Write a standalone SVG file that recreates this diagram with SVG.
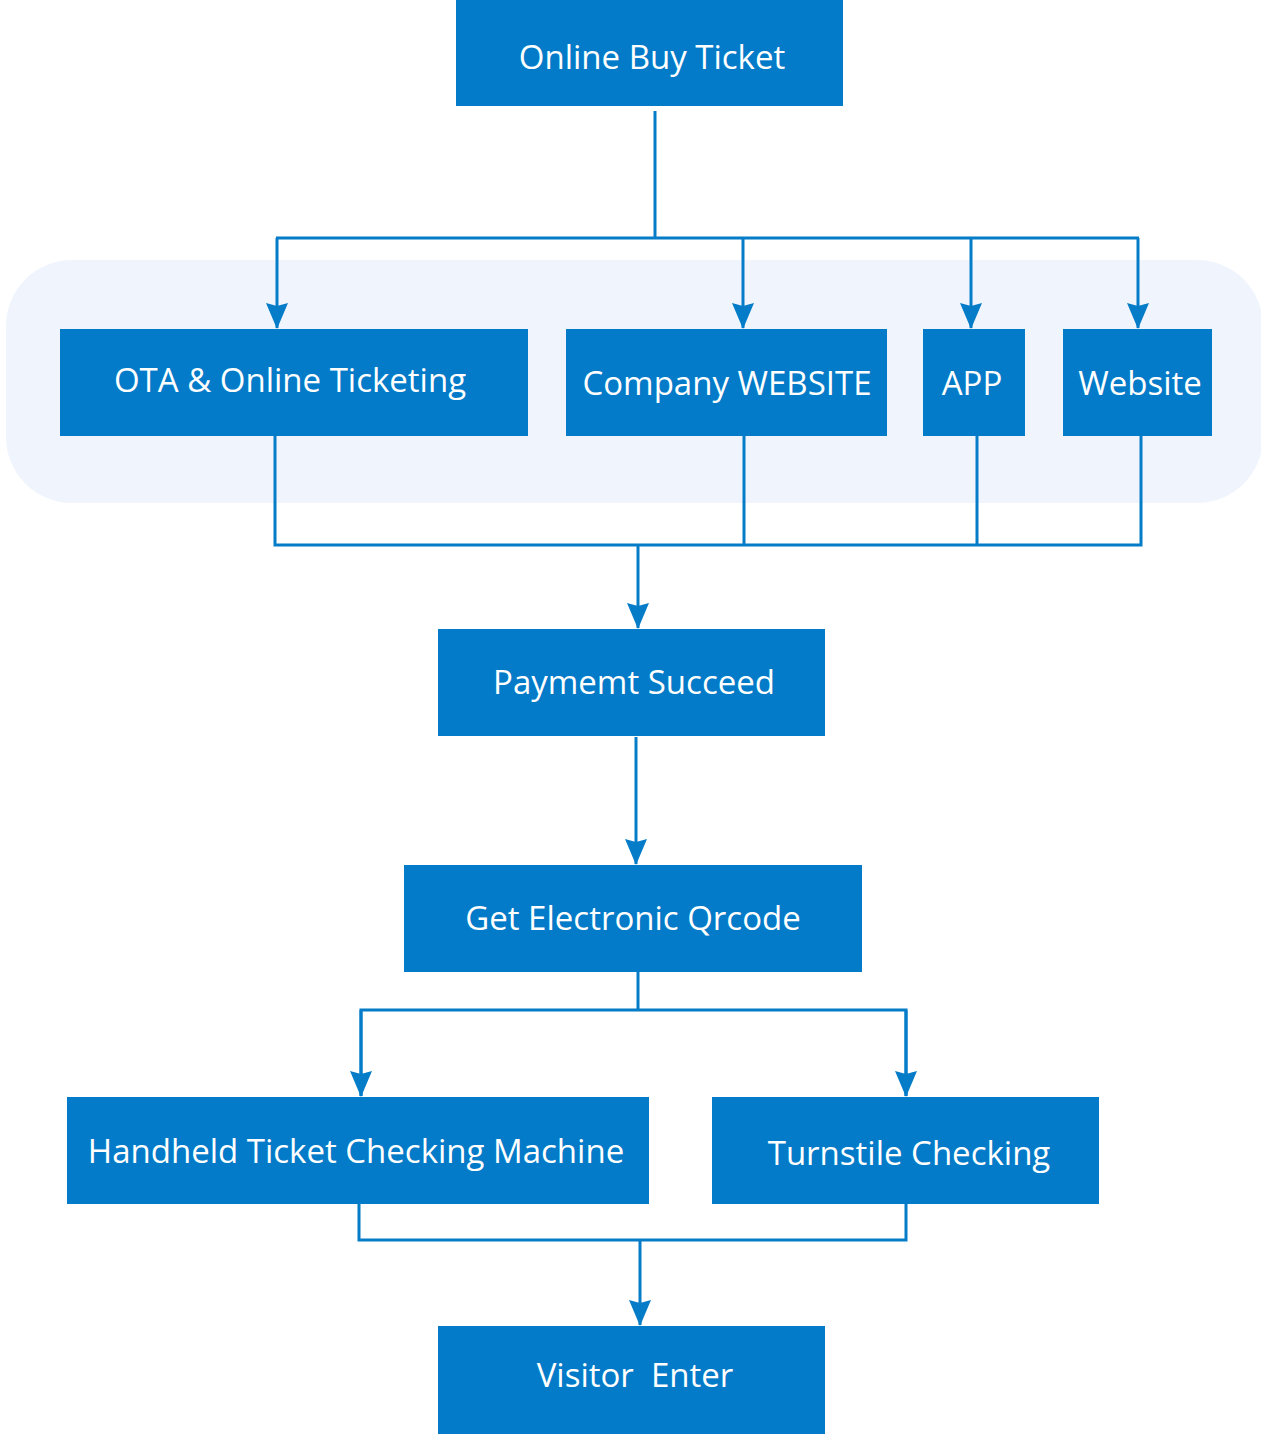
<svg xmlns="http://www.w3.org/2000/svg" width="1261" height="1434" viewBox="0 0 1261 1434">
<style>
.n{fill:#037BC8;}
.t{fill:#ffffff;font-family:"Open Sans","Noto Sans",sans-serif;font-size:33px;text-anchor:middle;white-space:pre;}
.c{fill:none;stroke:#047CC8;stroke-width:3;stroke-linejoin:miter;}
</style>
<defs>
<marker id="ah" markerWidth="26" markerHeight="22" refX="25" refY="11" orient="auto" markerUnits="userSpaceOnUse" viewBox="0 0 26 22">
<path d="M0,0 L3,11 L0,22 L26,11 Z" fill="#047CC8"/>
</marker>
</defs>
<rect x="6" y="260" width="1257" height="243" rx="66" ry="66" fill="#F0F5FD"/>
<g id="connectors">
<path class="c" d="M655,111 V238"/>
<path class="c" d="M276,238 H1139"/>
<path class="c" d="M277,238 V328" marker-end="url(#ah)"/>
<path class="c" d="M743,238 V328" marker-end="url(#ah)"/>
<path class="c" d="M971,238 V328" marker-end="url(#ah)"/>
<path class="c" d="M1138,238 V328" marker-end="url(#ah)"/>
<path class="c" d="M275,436 V545 H1141 V436"/>
<path class="c" d="M744,436 V545"/>
<path class="c" d="M977,436 V545"/>
<path class="c" d="M638,545 V628" marker-end="url(#ah)"/>
<path class="c" d="M636,737 V864" marker-end="url(#ah)"/>
<path class="c" d="M638,972 V1010"/>
<path class="c" d="M361,1096 V1010 H906 V1096"/>
<path class="c" d="M361,1010 V1096" marker-end="url(#ah)"/>
<path class="c" d="M906,1010 V1096" marker-end="url(#ah)"/>
<path class="c" d="M359,1204 V1240 H906 V1204"/>
<path class="c" d="M640,1240 V1325" marker-end="url(#ah)"/>
</g>
<g id="online-buy-ticket"><rect class="n" x="456" y="0" width="387" height="106"/><text class="t" x="652" y="69">Online Buy Ticket</text></g>
<g id="ota"><rect class="n" x="60" y="329" width="468" height="107"/><text class="t" x="290" y="392">OTA &amp; Online Ticketing</text></g>
<g id="company-website"><rect class="n" x="566" y="329" width="321" height="107"/><text class="t" x="727" y="395">Company WEBSITE</text></g>
<g id="app"><rect class="n" x="923" y="329" width="102" height="107"/><text class="t" x="972" y="395">APP</text></g>
<g id="website"><rect class="n" x="1063" y="329" width="149" height="107"/><text class="t" x="1140" y="395">Website</text></g>
<g id="payment"><rect class="n" x="438" y="629" width="387" height="107"/><text class="t" x="634" y="694">Paymemt Succeed</text></g>
<g id="qrcode"><rect class="n" x="404" y="865" width="458" height="107"/><text class="t" x="633" y="930">Get Electronic Qrcode</text></g>
<g id="handheld"><rect class="n" x="67" y="1097" width="582" height="107"/><text class="t" x="356" y="1163">Handheld Ticket Checking Machine</text></g>
<g id="turnstile"><rect class="n" x="712" y="1097" width="387" height="107"/><text class="t" x="909" y="1165">Turnstile Checking</text></g>
<g id="visitor-enter"><rect class="n" x="438" y="1326" width="387" height="108"/><text class="t" x="635" y="1387">Visitor  Enter</text></g>
</svg>
